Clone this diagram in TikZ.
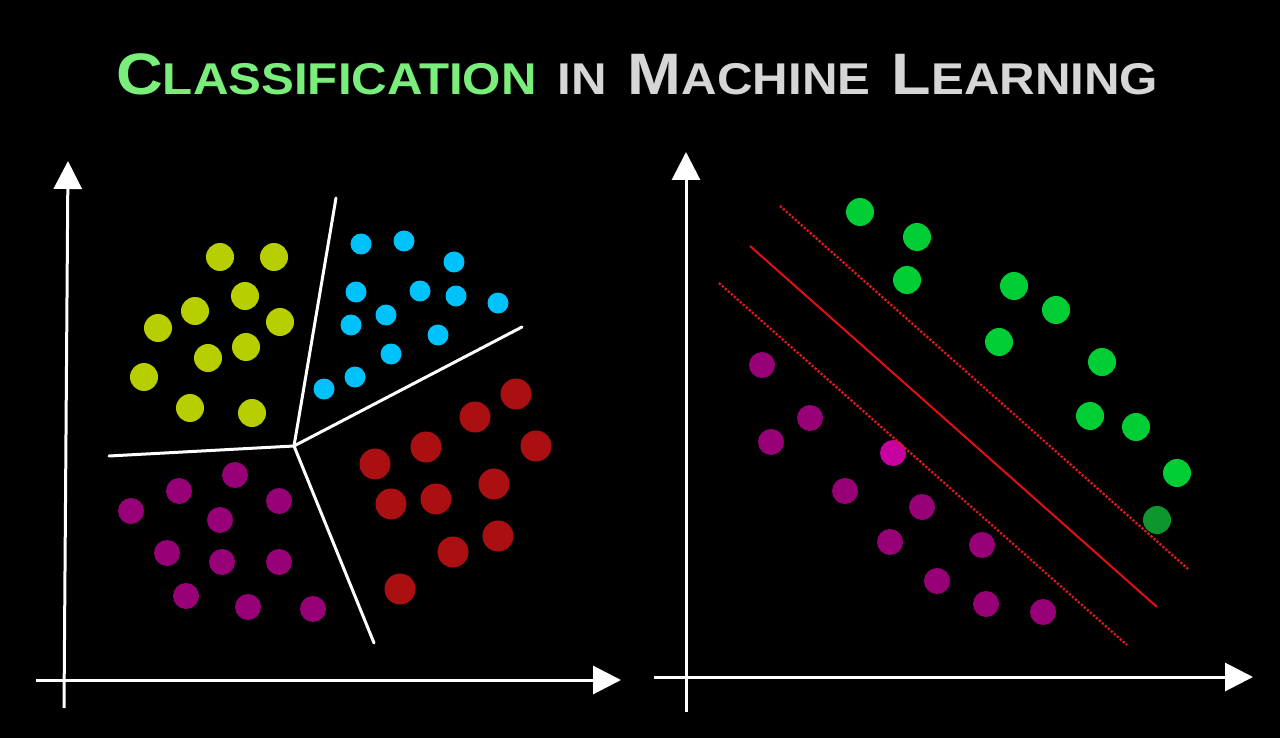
\documentclass[tikz,border=0pt]{standalone}
\usepackage{fontspec}
\setmainfont{Liberation Sans}
\usetikzlibrary{arrows.meta}
\definecolor{ttlgreen}{RGB}{122,238,122}
\definecolor{ttlgray}{RGB}{214,214,214}
\definecolor{lime}{RGB}{183,206,0}
\definecolor{cyanpt}{RGB}{0,194,250}
\definecolor{redpt}{RGB}{170,16,18}
\definecolor{magpt}{RGB}{152,0,120}
\definecolor{magbright}{RGB}{200,0,160}
\definecolor{greenpt}{RGB}{0,206,52}
\definecolor{darkgreenpt}{RGB}{14,150,46}
\definecolor{svmred}{RGB}{228,16,16}
\definecolor{margred}{RGB}{225,25,25}
\tikzset{
  axis/.style={draw=white, line width=3pt, -{Triangle[length=28pt,width=28pt]}},
  border/.style={draw=white, line width=3pt, line join=round, line cap=round},
  hyper/.style={draw=svmred, line width=2pt},
  marginline/.style={draw=margred, line width=2.3pt, dash pattern=on 2.2pt off 1.8pt},
}
\newcommand{\BC}[1]{{\fontsize{58.5}{58.5}\selectfont #1}}
\newcommand{\SC}[1]{{\fontsize{44.5}{44.5}\selectfont #1}}
\newcommand{\WS}{\hspace{19pt}}
\newsavebox{\ttlbox}
\begin{document}
\begin{tikzpicture}[x=1pt,y=-1pt]
\fill[black] (0,0) rectangle (1280,738);
\useasboundingbox (0,0) rectangle (1280,738);

% title
\node[anchor=base west, inner sep=0pt] (title) at (116,95)
  {\sbox{\ttlbox}{\bfseries\color{ttlgreen}\BC{C}\SC{LASSIFICATION}\WS\color{ttlgray}\SC{IN}\WS\BC{M}\SC{ACHINE}\WS\BC{L}\SC{EARNING}}%
   \pgfmathsetmacro{\ttlsx}{1042/\wd\ttlbox}%
   \scalebox{\ttlsx}[1]{\usebox{\ttlbox}}};

% ---------- left panel ----------
\foreach \p in {(220,257),(274,257),(245,296),(195,311),(280,322),(158,328),(246,347),(208,358),(144,377),(190,408),(252,413)}
  \fill[lime] \p circle (14);
\foreach \p in {(361,244),(404,241),(454,262),(356,292),(420,291),(456,296),(498,303),(386,315),(351,325),(438,335),(391,354),(355,377),(324,389)}
  \fill[cyanpt] \p circle (10.5);
\foreach \p in {(516,394),(475,417),(536,446),(426,447),(375,464),(494,484),(391,504),(436,499),(498,536),(453,552),(400,589)}
  \fill[redpt] \p circle (15.5);
\foreach \p in {(235,475),(179,491),(279,501),(131,511),(220,520),(167,553),(222,562),(279,562),(186,596),(248,607),(313,609)}
  \fill[magpt] \p circle (13);

\coordinate (c) at (294,446);
\coordinate (bl) at (109,456);
\coordinate (bt) at (336,198);
\coordinate (br) at (522,327);
\coordinate (bb) at (374,643);
\draw[border] (bl) -- (c) -- (bt);
\draw[border] (c) -- (br);
\draw[border] (c) -- (bb);

\coordinate (ly0) at (64,708);
\coordinate (ly1) at (68,161);
\coordinate (lx0) at (36,680);
\coordinate (lx1) at (621,680);
\draw[axis] (ly0) -- (ly1);
\draw[axis] (lx0) -- (lx1);

% ---------- right panel ----------
\foreach \p in {(860,212),(917,237),(907,280),(1014,286),(1056,310),(999,342),(1102,362),(1090,416),(1136,427),(1177,473)}
  \fill[greenpt] \p circle (14);
\fill[darkgreenpt] (1157,520) circle (14);
\foreach \p in {(762,365),(810,418),(771,442),(845,491),(922,507),(890,542),(982,545),(937,581),(986,604),(1043,612)}
  \fill[magpt] \p circle (13);
\fill[magbright] (893,453) circle (13);

\coordinate (h0) at (750,246);
\coordinate (h1) at (1157,607);
\coordinate (u0) at (780,206);
\coordinate (u1) at (1188,569);
\coordinate (d0) at (719,283);
\coordinate (d1) at (1127,645);
\draw[hyper] (h0) -- (h1);
\draw[marginline] (u0) -- (u1);
\draw[marginline] (d0) -- (d1);

\coordinate (ry0) at (686,712);
\coordinate (ry1) at (686,152);
\coordinate (rx0) at (654,677);
\coordinate (rx1) at (1253,677);
\draw[axis] (ry0) -- (ry1);
\draw[axis] (rx0) -- (rx1);
\end{tikzpicture}
\end{document}
